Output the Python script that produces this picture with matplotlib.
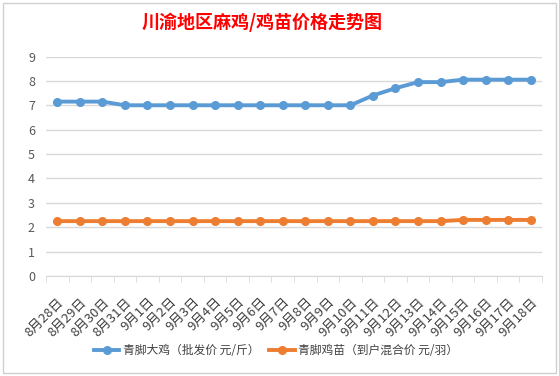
import matplotlib
matplotlib.use("Agg")
import matplotlib.pyplot as plt
from matplotlib.patches import Rectangle

plt.rcParams['font.family'] = ['Noto Sans CJK SC', 'DejaVu Sans']

dates = ['8月28日', '8月29日', '8月30日', '8月31日', '9月1日', '9月2日', '9月3日',
         '9月4日', '9月5日', '9月6日', '9月7日', '9月8日', '9月9日', '9月10日',
         '9月11日', '9月12日', '9月13日', '9月14日', '9月15日', '9月16日',
         '9月17日', '9月18日']
big_chicken = [7.15, 7.15, 7.15, 7.0, 7.0, 7.0, 7.0, 7.0, 7.0, 7.0, 7.0, 7.0,
               7.0, 7.0, 7.4, 7.7, 7.95, 7.95, 8.05, 8.05, 8.05, 8.05]
chick = [2.25, 2.25, 2.25, 2.25, 2.25, 2.25, 2.25, 2.25, 2.25, 2.25, 2.25,
         2.25, 2.25, 2.25, 2.25, 2.25, 2.25, 2.25, 2.3, 2.3, 2.3, 2.3]
names = ['青脚大鸡（批发价 元/斤）', '青脚鸡苗（到户混合价 元/羽）']

W, H = 559, 376
fig = plt.figure(figsize=(W / 100, H / 100), dpi=100)
fig.patches.append(Rectangle((2.5 / W, 3 / H), 553 / W, 370 / H, transform=fig.transFigure,
                             fill=False, edgecolor='#d0d0d0', lw=1))

ax = fig.add_axes([46 / W, 1 - 276 / H, 496 / W, 219.5 / H])
x = list(range(len(dates)))
ax.plot(x, big_chicken, color='#5b9bd5', lw=2.8, marker='o', ms=5.5, label=names[0])
ax.plot(x, chick, color='#ed7d31', lw=2.8, marker='o', ms=5.5, label=names[1])

ax.set_xlim(-0.5, len(dates) - 0.5)
ax.set_ylim(0, 9)
ax.set_yticks(range(10))
ax.grid(axis='y', color='#d9d9d9', lw=1)
ax.set_axisbelow(True)
for s in ['top', 'right', 'left']:
    ax.spines[s].set_visible(False)
ax.spines['bottom'].set_color('#d9d9d9')
ax.tick_params(axis='y', length=0, labelsize=9, labelcolor='#595959', pad=8)

ax.set_xticks(x)
ax.set_xticklabels(dates, rotation=45, ha='right', rotation_mode='anchor',
                   fontsize=9.5, color='#404040')
ax.tick_params(axis='x', which='major', length=0, pad=14)
ax.set_xticks([i - 0.5 for i in range(len(dates) + 1)], minor=True)
ax.tick_params(axis='x', which='minor', length=4, color='#d9d9d9')

fig.text(262 / W, 1 - 22 / H, '川渝地区麻鸡/鸡苗价格走势图', ha='center', va='center',
         fontsize=13, fontweight='bold', color='#ff0000')

fig.legend(loc='center', bbox_to_anchor=(276 / W, 1 - 351 / H), ncol=2, frameon=False,
           fontsize=8.5, handlelength=2.2, columnspacing=0.8, handletextpad=0.3,
           labelcolor='#404040')

fig.savefig('out.png', dpi=100)
